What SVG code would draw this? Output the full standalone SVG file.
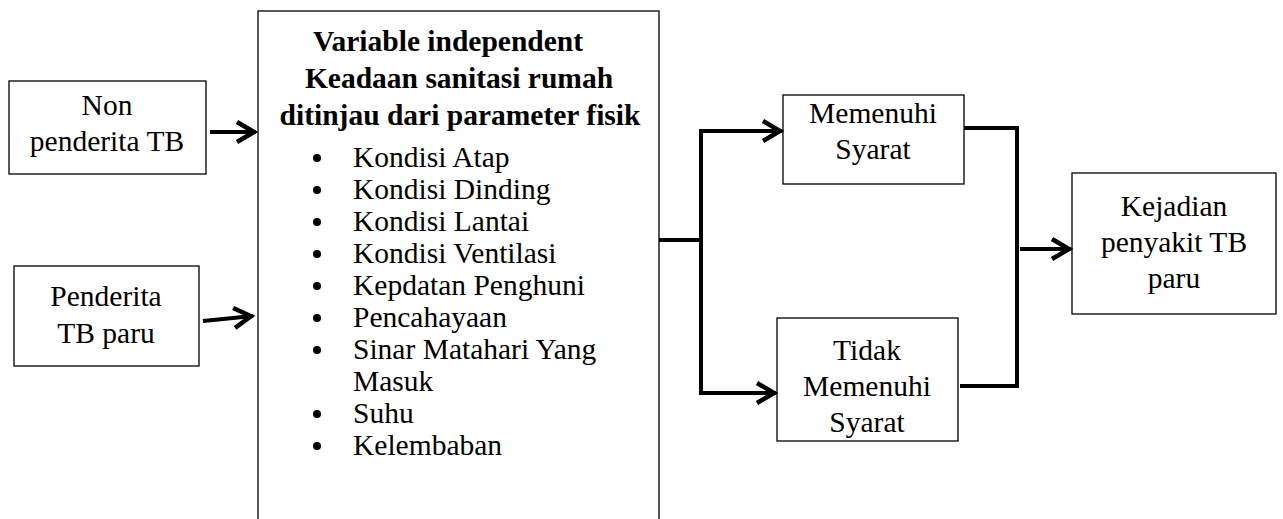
<svg xmlns="http://www.w3.org/2000/svg" width="1283" height="519" viewBox="0 0 1283 519">
<style>
.box{fill:#fff;stroke:#000;stroke-width:1.3}
.t{font-family:"Liberation Serif","Times New Roman",serif;font-size:29.5px;fill:#000}
.c{text-anchor:middle}
.b{font-weight:bold}
.dot{fill:#000}
.con{fill:none;stroke:#000;stroke-width:4}
</style>
<defs>
<marker id="ah" markerUnits="userSpaceOnUse" viewBox="-24 -14 28 28" refX="0" refY="0" markerWidth="28" markerHeight="28" orient="auto">
<path d="M-19,-10 L-2,0 L-19,10" fill="none" stroke="#000" stroke-width="4.5"/>
</marker>
</defs>
<g id="non-penderita">
<rect class="box" x="9" y="81" width="197" height="93"/>
<text class="t c" x="107" y="115">Non</text>
<text class="t c" x="107" y="151">penderita TB</text>
</g>
<g id="penderita">
<rect class="box" x="14" y="266" width="185" height="100"/>
<text class="t c" x="106" y="306">Penderita</text>
<text class="t c" x="106" y="343">TB paru</text>
</g>
<g id="variable">
<rect class="box" x="258" y="11" width="401" height="520"/>
<text class="t c b" x="448" y="51">Variable independent</text>
<text class="t c b" x="459" y="88">Keadaan sanitasi rumah</text>
<text class="t c b" x="460" y="125">ditinjau dari parameter fisik</text>
<g class="dot">
<circle cx="317" cy="158" r="4"/>
<circle cx="317" cy="190" r="4"/>
<circle cx="317" cy="222" r="4"/>
<circle cx="317" cy="254" r="4"/>
<circle cx="317" cy="286" r="4"/>
<circle cx="317" cy="318" r="4"/>
<circle cx="317" cy="350" r="4"/>
<circle cx="317" cy="414" r="4"/>
<circle cx="317" cy="446" r="4"/>
</g>
<g class="t">
<text x="353" y="167">Kondisi Atap</text>
<text x="353" y="199">Kondisi Dinding</text>
<text x="353" y="231">Kondisi Lantai</text>
<text x="353" y="263">Kondisi Ventilasi</text>
<text x="353" y="295">Kepdatan Penghuni</text>
<text x="353" y="327">Pencahayaan</text>
<text x="353" y="359">Sinar Matahari Yang</text>
<text x="353" y="391">Masuk</text>
<text x="353" y="423">Suhu</text>
<text x="353" y="455">Kelembaban</text>
</g>
</g>
<g id="memenuhi">
<rect class="box" x="783" y="95" width="181" height="89"/>
<text class="t c" x="873" y="123">Memenuhi</text>
<text class="t c" x="873" y="159">Syarat</text>
</g>
<g id="tidak-memenuhi">
<rect class="box" x="777" y="318" width="181" height="123"/>
<text class="t c" x="867" y="360">Tidak</text>
<text class="t c" x="867" y="396">Memenuhi</text>
<text class="t c" x="867" y="432">Syarat</text>
</g>
<g id="kejadian">
<rect class="box" x="1072" y="173" width="204" height="141"/>
<text class="t c" x="1174" y="216">Kejadian</text>
<text class="t c" x="1174" y="252">penyakit TB</text>
<text class="t c" x="1174" y="288">paru</text>
</g>
<g id="connectors">
<line class="con" x1="210" y1="132" x2="256" y2="132" marker-end="url(#ah)"/>
<line class="con" x1="203" y1="321" x2="253" y2="316" marker-end="url(#ah)"/>
<line class="con" x1="659" y1="240" x2="701" y2="240"/>
<polyline class="con" points="782,131 701,131 701,393 776,393"/>
<line class="con" x1="701" y1="131" x2="782" y2="131" marker-end="url(#ah)"/>
<line class="con" x1="701" y1="393" x2="776" y2="393" marker-end="url(#ah)"/>
<polyline class="con" points="964,128 1017,128 1017,386 960,386"/>
<line class="con" x1="1020" y1="249" x2="1071" y2="249" marker-end="url(#ah)"/>
</g>
</svg>
